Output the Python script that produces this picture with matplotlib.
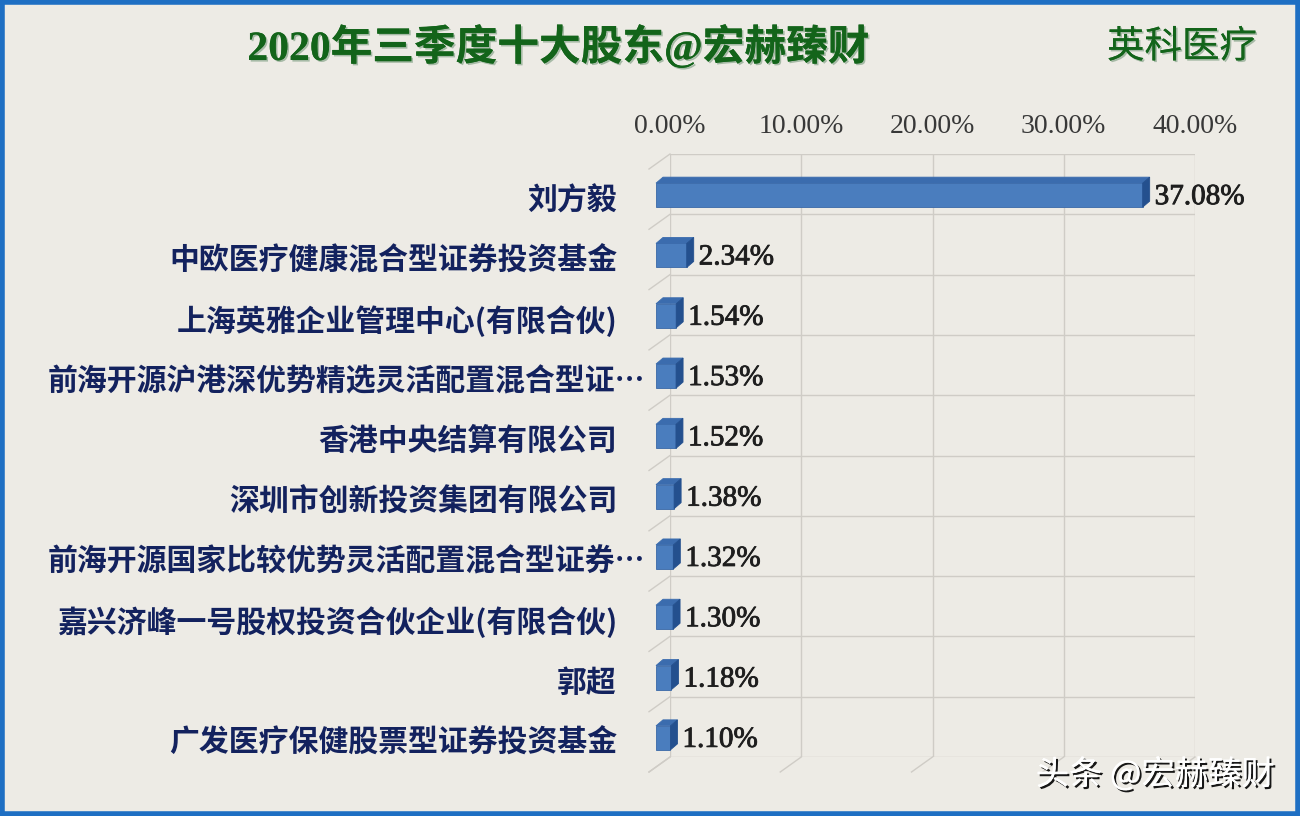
import matplotlib.pyplot as plt
import matplotlib.patheffects as pe
from matplotlib.patches import Polygon, Rectangle
from matplotlib.transforms import blended_transform_factory
import numpy as np

title = "2020年三季度十大股东@宏赫臻财"
company = "英科医疗"
watermark = "头条 @宏赫臻财"

holders = ["刘方毅",
           "中欧医疗健康混合型证券投资基金",
           "上海英雅企业管理中心(有限合伙)",
           "前海开源沪港深优势精选灵活配置混合型证…",
           "香港中央结算有限公司",
           "深圳市创新投资集团有限公司",
           "前海开源国家比较优势灵活配置混合型证券…",
           "嘉兴济峰一号股权投资合伙企业(有限合伙)",
           "郭超",
           "广发医疗保健股票型证券投资基金"]
shares = [37.08, 2.34, 1.54, 1.53, 1.52, 1.38, 1.32, 1.30, 1.18, 1.10]
xticks = [0, 10, 20, 30, 40]

bg = '#EDEBE5'
grid_c = '#CFCCC6'
W, H = 1300, 816

fig = plt.figure(figsize=(13, 8.16), dpi=100, facecolor=bg)
# back wall of the 3d chart in pixel coords: x 670..1195, y 154..757
ax = fig.add_axes([670 / W, (H - 757) / H, 525 / W, 603 / H])
ax.set_facecolor('none')
ax.set_xlim(0, 40)
ax.set_ylim(9.5, -0.5)
for s in ax.spines.values():
    s.set_visible(False)
ax.set_yticks([])
ax.xaxis.tick_top()
ax.set_xticks(xticks)
ax.set_xticklabels(["%.2f%%" % t for t in xticks], family='Liberation Serif',
                   fontsize=20, color='#383838')
ax.tick_params(axis='x', length=0, pad=11)

pxx = 525 / 40.0   # pixels per percent
pxy = 603 / 10.0   # pixels per row
wall_dx, wall_dy = -21 / pxx, 15 / pxy

# back wall grid
for t in xticks:
    ax.plot([t, t], [-0.5, 9.5], color=grid_c, lw=1, zorder=1)
    ax.plot([t, t + wall_dx], [9.5, 9.5 + wall_dy], color=grid_c, lw=1, zorder=1, clip_on=False)
for k in range(11):
    yk = k - 0.5
    ax.plot([0, 40], [yk, yk], color=grid_c, lw=1, zorder=1)
    ax.plot([0, wall_dx], [yk, yk + wall_dy], color=grid_c, lw=1, zorder=1, clip_on=False)

# bars
left = -14 / pxx
bh = 24 / pxy
ddx, ddy = 7 / pxx, -6 / pxy
yc = np.arange(len(shares)) + 11 / pxy
ax.barh(yc, shares, height=bh, left=left, color='#4A7DBE', edgecolor='#3A68A6',
        lw=0.6, zorder=3, clip_on=False)
for y, v in zip(yc, shares):
    yt, yb = y - bh / 2, y + bh / 2
    ax.add_patch(Polygon([(left, yt), (left + v, yt), (left + v + ddx, yt + ddy), (left + ddx, yt + ddy)],
                         closed=True, facecolor='#3B6CAE', edgecolor='#3B6CAE', lw=0.6,
                         zorder=3, clip_on=False))
    ax.add_patch(Polygon([(left + v, yt), (left + v, yb), (left + v + ddx, yb + ddy), (left + v + ddx, yt + ddy)],
                         closed=True, facecolor='#24508E', edgecolor='#24508E', lw=0.6,
                         zorder=3, clip_on=False))
    ax.text(left + v + 12 / pxx, y + 2 / pxy, "%.2f%%" % v, family='Liberation Serif',
            fontsize=21, color='#1E1E1E', ha='left', va='center', zorder=4,
            path_effects=[pe.withStroke(linewidth=0.6, foreground='#1E1E1E')])

# category labels
tr = blended_transform_factory(fig.transFigure, ax.transData)
for i, name in enumerate(holders):
    xr = 617 / W
    if name.endswith('…'):
        xr = 645 / W
    ax.text(xr, i + 16 / pxy, name, transform=tr, family=['Noto Sans CJK SC', 'DejaVu Sans'],
            fontsize=21.5, fontweight='bold', color='#13225E', ha='right', va='center')

shadow = [pe.withSimplePatchShadow(offset=(1.2, -1.2), shadow_rgbFace='#9fb59f', alpha=0.9), pe.Normal()]
fig.text(558 / W, 1 - 47 / H, title, family=['Liberation Serif', 'Noto Sans CJK SC'],
         fontsize=30, fontweight='bold', color='#13641A', ha='center', va='center',
         path_effects=shadow)
fig.text(1182 / W, 1 - 47 / H, company, family=['Noto Sans CJK SC'],
         fontsize=27, color='#13641A', ha='center', va='center', path_effects=shadow)
fig.text(1275 / W, 1 - 775 / H, watermark, family=['Noto Sans CJK SC', 'DejaVu Sans'],
         fontsize=24, color='white', ha='right', va='center',
         path_effects=[pe.withSimplePatchShadow(offset=(1.5, -1.5), shadow_rgbFace='black', alpha=0.9),
                       pe.Normal()])

# blue frame
fig.patches.append(Rectangle((0.0015, 0.0025), 0.997, 0.995, transform=fig.transFigure,
                             fill=False, edgecolor='#1E6FC3', lw=4))

fig.savefig('out.png', dpi=100, facecolor=bg)
